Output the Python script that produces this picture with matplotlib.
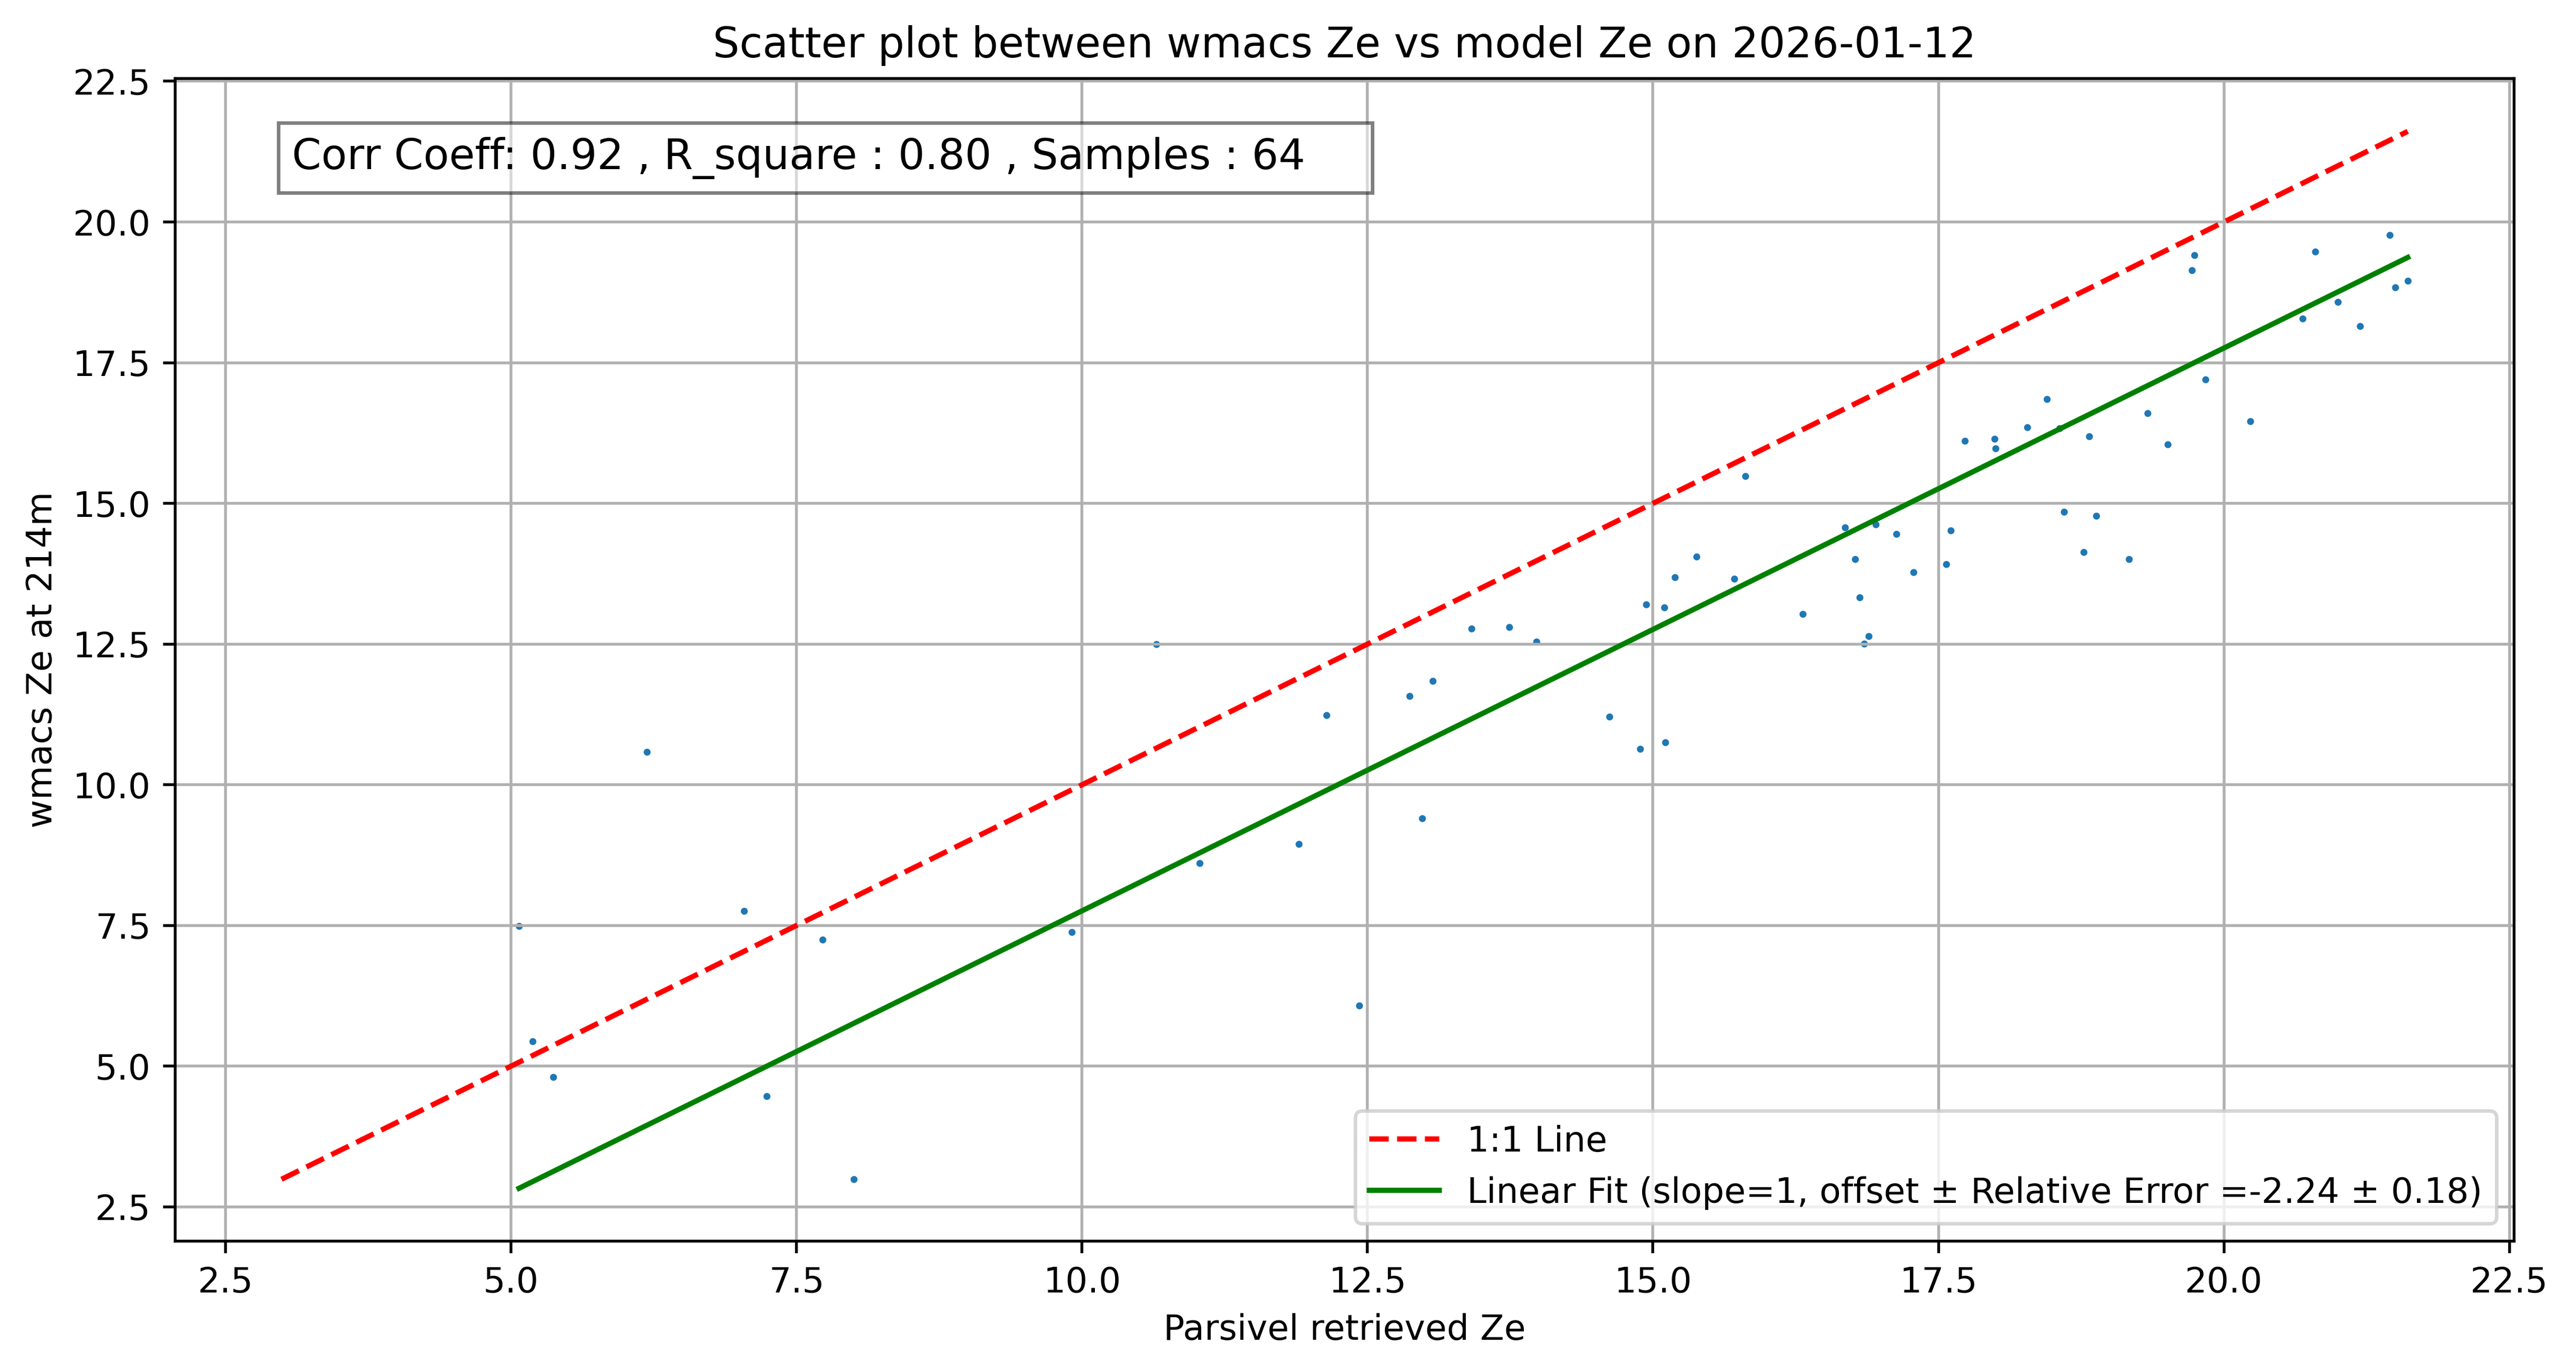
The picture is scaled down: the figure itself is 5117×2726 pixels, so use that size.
import matplotlib
matplotlib.use('Agg')
from matplotlib import pyplot as plt
import numpy as np

### Data
parsivel_ze = [5.07, 5.19, 5.37, 6.19, 7.04, 7.24, 7.73, 8.00, 9.91, 10.65,
               11.03, 11.90, 12.14, 12.43, 12.87, 12.98, 13.07, 13.41, 13.74, 13.98,
               14.62, 14.89, 14.94, 15.10, 15.11, 15.19, 15.38, 15.81, 15.71, 16.31,
               16.68, 16.77, 16.81, 16.85, 16.89, 16.95, 17.13, 17.28, 17.57, 17.61,
               17.73, 17.99, 18.00, 18.28, 18.45, 18.56, 18.60, 18.77, 18.82, 18.88,
               19.17, 19.33, 19.51, 19.74, 19.72, 19.84, 20.23, 20.69, 20.80, 21.00,
               21.19, 21.45, 21.50, 21.61]
wmacs_ze = [7.49, 5.44, 4.81, 10.58, 7.76, 4.47, 7.25, 2.99, 7.38, 12.50,
            8.61, 8.95, 11.24, 6.08, 11.58, 9.40, 11.84, 12.77, 12.80, 12.54,
            11.21, 10.64, 13.20, 13.15, 10.75, 13.69, 14.05, 15.48, 13.66, 13.03,
            14.57, 14.01, 13.33, 12.51, 12.64, 14.63, 14.46, 13.78, 13.92, 14.52,
            16.11, 16.15, 15.98, 16.35, 16.85, 16.33, 14.85, 14.13, 16.19, 14.78,
            14.01, 16.60, 16.05, 19.41, 19.14, 17.20, 16.46, 18.28, 19.47, 18.58,
            18.15, 19.77, 18.84, 18.95]

date = '2026-01-12'
height = '214m'
corr_coeff = 0.92
r_square = 0.80
offset = -2.24
rel_error = 0.18

x = np.array(parsivel_ze)
y = np.array(wmacs_ze)

### Plot
fig = plt.figure(figsize=(5117/500, 2726/500), dpi=500)
ax = fig.add_axes([348/5117, 1 - 2466/2726, (4994-348)/5117, (2466-156)/2726])

ax.scatter(x, y, s=4, linewidths=0)

# 1:1 line over the full data span
lo = min(x.min(), y.min())
hi = max(x.max(), y.max())
ax.plot([lo, hi], [lo, hi], 'r--', label='1:1 Line')

# Fixed slope fit
xf = np.array([x.min(), x.max()])
ax.plot(xf, xf + offset, 'g-',
        label=f'Linear Fit (slope=1, offset \u00b1 Relative Error ={offset:.2f} \u00b1 {rel_error:.2f})')

ax.text(0.05, 0.95, f'Corr Coeff: {corr_coeff:.2f} , R_square : {r_square:.2f} , Samples : {len(x)}    ',
        transform=ax.transAxes, fontsize=12, va='top', bbox=dict(facecolor='white', alpha=0.5))

ax.set_xlabel('Parsivel retrieved Ze')
ax.set_ylabel(f'wmacs Ze at {height}')
ax.set_title(f'Scatter plot between wmacs Ze vs model Ze on {date}')
ax.legend(loc='lower right')
ax.grid(True)

fig.savefig('out.png', dpi=500)
